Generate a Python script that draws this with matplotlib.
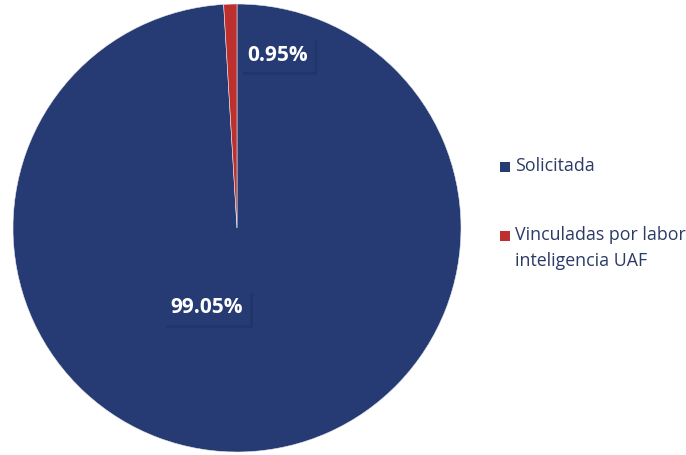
import matplotlib.pyplot as plt
import matplotlib.patheffects as pe
from matplotlib.patches import Rectangle

categories = ['Solicitada', 'Vinculadas por labor\ninteligencia UAF']
values = [99.05, 0.95]
colors = ['#263b73', '#bd302d']

plt.rcParams['font.family'] = ['Open Sans', 'DejaVu Sans']

fig = plt.figure(figsize=(6.86, 4.55), dpi=100)
ax = fig.add_axes([13 / 686, 3 / 455, 448 / 686, 448 / 455])

wedges, texts, autotexts = ax.pie(
    values, colors=colors, startangle=90, counterclock=False,
    autopct='%.2f%%', radius=1.0,
    wedgeprops=dict(linewidth=0.4, edgecolor='#e8e8f0'),
)
ax.set_xlim(-1, 1)
ax.set_ylim(-1, 1)
ax.set_aspect('equal')

# data labels in dark boxes with a soft shadow
label_pos = [(-0.135, -0.357), (0.18, 0.772)]
for t, pos in zip(autotexts, label_pos):
    t.set_position(pos)
    t.set_color('white')
    t.set_fontsize(15)
    t.set_fontweight('bold')
    t.set_bbox(dict(boxstyle='square,pad=0.33', facecolor='#263b73', edgecolor='none'))
    t.get_bbox_patch().set_path_effects([
        pe.withSimplePatchShadow(offset=(2, -2), shadow_rgbFace='#1a2450', alpha=0.25)])

# legend drawn by hand: square marker aligned with the first text line
W, H = 686, 455
legend_y = [167, 236]
for (name, col, y) in zip(categories, colors, legend_y):
    fig.patches.append(Rectangle((500 / W, 1 - (y + 5) / H), 10 / W, 10 / H,
                                 transform=fig.transFigure, facecolor=col,
                                 edgecolor='none'))
    fig.text(515 / W, 1 - (y - 10) / H, name, ha='left', va='top',
             fontsize=12.8, color='#2b3a66', linespacing=1.55)

fig.savefig('out.png', dpi=100)
